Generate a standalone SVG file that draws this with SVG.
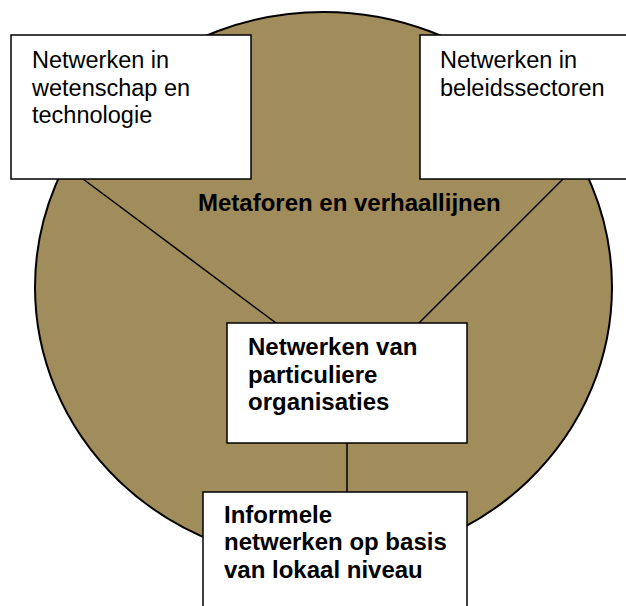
<svg xmlns="http://www.w3.org/2000/svg" width="626" height="606" viewBox="0 0 626 606">
<style>
.box{fill:#ffffff;stroke:#000000;stroke-width:1.5}
.conn{stroke:#000000;stroke-width:1.5;fill:none}
.t{font-family:"Liberation Sans",Arial,sans-serif;font-size:23.5px;fill:#000000}
.b{font-weight:bold;font-size:24px}
</style>
<rect x="0" y="0" width="626" height="606" fill="#ffffff"/>
<g id="metaforen">
<ellipse cx="323.5" cy="287" rx="288.5" ry="275" fill="#A18C5B" stroke="#000000" stroke-width="2"/>
<text class="t b" x="198" y="211">Metaforen en verhaallijnen</text>
</g>
<g id="connectors">
<line class="conn" x1="83" y1="179" x2="276" y2="323"/>
<line class="conn" x1="563" y1="179" x2="419" y2="323"/>
<line class="conn" x1="347" y1="443" x2="347" y2="492"/>
</g>
<g id="wetenschap">
<rect class="box" x="11" y="35" width="240" height="144"/>
<text class="t" x="32"><tspan x="32" y="68">Netwerken in</tspan><tspan x="32" y="96">wetenschap en</tspan><tspan x="32" y="123">technologie</tspan></text>
</g>
<g id="beleid">
<rect class="box" x="420" y="35" width="210" height="144"/>
<text class="t" x="440"><tspan x="440" y="68">Netwerken in</tspan><tspan x="440" y="96">beleidssectoren</tspan></text>
</g>
<g id="particulier">
<rect class="box" x="227" y="323" width="240" height="120"/>
<text class="t b" x="248"><tspan x="248" y="355">Netwerken van</tspan><tspan x="248" y="383">particuliere</tspan><tspan x="248" y="410">organisaties</tspan></text>
</g>
<g id="informeel">
<rect class="box" x="203" y="492" width="264" height="120"/>
<text class="t b" x="224"><tspan x="224" y="523">Informele</tspan><tspan x="224" y="550">netwerken op basis</tspan><tspan x="224" y="578">van lokaal niveau</tspan></text>
</g>
</svg>
